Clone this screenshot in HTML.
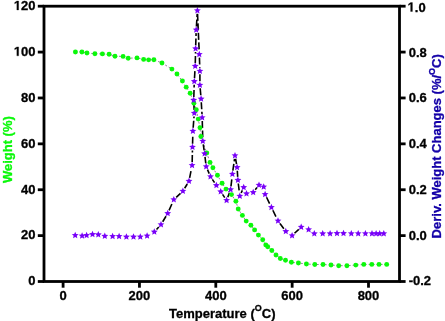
<!DOCTYPE html>
<html><head><meta charset="utf-8"><style>
html,body{margin:0;padding:0;background:#fff;}
body{width:445px;height:321px;overflow:hidden;}
svg{display:block;will-change:transform;}
text{font-family:"Liberation Sans",sans-serif;font-weight:bold;stroke:currentColor;stroke-width:0.3px;}
</style></head><body>
<svg width="445" height="321" viewBox="0 0 445 321">
<polyline fill="none" stroke="#8a6e8a" stroke-width="0.9" stroke-dasharray="2 2" points="75.4,51.95 81.9,51.95 86.95,53 94.9,53.8 102.4,53.9 109.1,54.3 115.0,56.2 123.1,56.4 128.2,58.2 137,57.9 143.65,59.4 148.65,59.85 153.9,59.8 162.0,63.0 171.9,69.1 176.95,74.0 182.4,80.95 186.2,87.15 190.15,93.2 193.9,103.3 196.3,109.7 198.2,119.1 200.0,127.7 200.85,136.55 206.8,153 210.05,162.4 212.9,167.7 217.45,175.3 222.1,183.2 226.0,189.1 231.5,194.6 235.9,201.2 238.2,209.0 242.4,215.4 246.2,221.1 250.9,225.2 254.6,229.9 258.4,235.1 262.7,239.8 265.8,244.9 267.7,246.7 271.8,250.5 276.0,255.0 280.3,258.5 285.5,260.2 291.4,262.3 298.4,263.0 306.4,264.0 314.8,264.5 323.0,264.5 331.0,265.0 338.7,265.7 346.9,265.7 355.8,265.1 363.8,264.4 371.8,264.4 379.0,264.4 386.7,264.4"/>
<path fill="none" stroke="#000" stroke-width="1.6" stroke-dasharray="7 2.5" d="M156.53,229.47L158.77,227.03M162.69,221.77L166.01,216.23M169.03,210.38L172.47,202.62M176.21,197.35L180.49,193.35M184.63,188.29L187.27,184.01M189.63,177.96L191.47,168.54M192.17,162.00L192.43,150.40M192.58,143.80L192.82,134.30M193.16,127.71L194.04,116.49M194.15,109.90L193.85,103.50M193.81,96.90L194.19,84.70M194.50,78.11L195.00,69.49M195.28,62.90L195.52,52.00M195.70,45.40L196.10,33.10M196.41,26.51L197.19,13.89M197.54,13.90L199.16,51.00M199.42,57.60L199.78,67.70M199.90,74.30L199.90,81.70M200.18,88.29L200.82,95.61M201.29,102.19L202.01,114.31M202.28,120.90L202.72,137.70M203.26,144.27L204.14,150.43M205.01,156.97L205.79,163.33M207.50,169.63L209.20,173.57M212.34,179.34L214.56,182.66M222.57,194.42L224.73,197.58M227.76,197.21L229.44,192.69M230.98,186.32L232.02,177.28M232.86,170.73L234.54,158.77M235.57,158.75L236.53,164.15M237.31,170.69L237.69,176.91M238.29,183.48L239.41,192.72M241.16,192.99L242.34,190.41M255.24,189.80L256.96,187.60M266.54,197.27L269.96,204.33M272.85,210.26L276.55,217.84M279.96,223.46L283.84,228.74M294.52,233.26L298.78,229.34"/>
<circle cx="75.4" cy="51.95" r="2.45" fill="#0af80a"/>
<circle cx="81.9" cy="51.95" r="2.45" fill="#0af80a"/>
<circle cx="86.95" cy="53" r="2.45" fill="#0af80a"/>
<circle cx="94.9" cy="53.8" r="2.45" fill="#0af80a"/>
<circle cx="102.4" cy="53.9" r="2.45" fill="#0af80a"/>
<circle cx="109.1" cy="54.3" r="2.45" fill="#0af80a"/>
<circle cx="115.0" cy="56.2" r="2.45" fill="#0af80a"/>
<circle cx="123.1" cy="56.4" r="2.45" fill="#0af80a"/>
<circle cx="128.2" cy="58.2" r="2.45" fill="#0af80a"/>
<circle cx="137" cy="57.9" r="2.45" fill="#0af80a"/>
<circle cx="143.65" cy="59.4" r="2.45" fill="#0af80a"/>
<circle cx="148.65" cy="59.85" r="2.45" fill="#0af80a"/>
<circle cx="153.9" cy="59.8" r="2.45" fill="#0af80a"/>
<circle cx="162.0" cy="63.0" r="2.45" fill="#0af80a"/>
<circle cx="171.9" cy="69.1" r="2.45" fill="#0af80a"/>
<circle cx="176.95" cy="74.0" r="2.45" fill="#0af80a"/>
<circle cx="182.4" cy="80.95" r="2.45" fill="#0af80a"/>
<circle cx="186.2" cy="87.15" r="2.45" fill="#0af80a"/>
<circle cx="190.15" cy="93.2" r="2.45" fill="#0af80a"/>
<circle cx="193.9" cy="103.3" r="2.45" fill="#0af80a"/>
<circle cx="196.3" cy="109.7" r="2.45" fill="#0af80a"/>
<circle cx="198.2" cy="119.1" r="2.45" fill="#0af80a"/>
<circle cx="200.0" cy="127.7" r="2.45" fill="#0af80a"/>
<circle cx="200.85" cy="136.55" r="2.45" fill="#0af80a"/>
<circle cx="206.8" cy="153" r="2.45" fill="#0af80a"/>
<circle cx="210.05" cy="162.4" r="2.45" fill="#0af80a"/>
<circle cx="212.9" cy="167.7" r="2.45" fill="#0af80a"/>
<circle cx="217.45" cy="175.3" r="2.45" fill="#0af80a"/>
<circle cx="222.1" cy="183.2" r="2.45" fill="#0af80a"/>
<circle cx="226.0" cy="189.1" r="2.45" fill="#0af80a"/>
<circle cx="231.5" cy="194.6" r="2.45" fill="#0af80a"/>
<circle cx="235.9" cy="201.2" r="2.45" fill="#0af80a"/>
<circle cx="238.2" cy="209.0" r="2.45" fill="#0af80a"/>
<circle cx="242.4" cy="215.4" r="2.45" fill="#0af80a"/>
<circle cx="246.2" cy="221.1" r="2.45" fill="#0af80a"/>
<circle cx="250.9" cy="225.2" r="2.45" fill="#0af80a"/>
<circle cx="254.6" cy="229.9" r="2.45" fill="#0af80a"/>
<circle cx="258.4" cy="235.1" r="2.45" fill="#0af80a"/>
<circle cx="262.7" cy="239.8" r="2.45" fill="#0af80a"/>
<circle cx="265.8" cy="244.9" r="2.45" fill="#0af80a"/>
<circle cx="267.7" cy="246.7" r="2.45" fill="#0af80a"/>
<circle cx="271.8" cy="250.5" r="2.45" fill="#0af80a"/>
<circle cx="276.0" cy="255.0" r="2.45" fill="#0af80a"/>
<circle cx="280.3" cy="258.5" r="2.45" fill="#0af80a"/>
<circle cx="285.5" cy="260.2" r="2.45" fill="#0af80a"/>
<circle cx="291.4" cy="262.3" r="2.45" fill="#0af80a"/>
<circle cx="298.4" cy="263.0" r="2.45" fill="#0af80a"/>
<circle cx="306.4" cy="264.0" r="2.45" fill="#0af80a"/>
<circle cx="314.8" cy="264.5" r="2.45" fill="#0af80a"/>
<circle cx="323.0" cy="264.5" r="2.45" fill="#0af80a"/>
<circle cx="331.0" cy="265.0" r="2.45" fill="#0af80a"/>
<circle cx="338.7" cy="265.7" r="2.45" fill="#0af80a"/>
<circle cx="346.9" cy="265.7" r="2.45" fill="#0af80a"/>
<circle cx="355.8" cy="265.1" r="2.45" fill="#0af80a"/>
<circle cx="363.8" cy="264.4" r="2.45" fill="#0af80a"/>
<circle cx="371.8" cy="264.4" r="2.45" fill="#0af80a"/>
<circle cx="379.0" cy="264.4" r="2.45" fill="#0af80a"/>
<circle cx="386.7" cy="264.4" r="2.45" fill="#0af80a"/>
<path transform="translate(75.2,235.3)" d="M0.00,-3.60 L0.97,-1.33 L3.42,-1.11 L1.57,0.51 L2.12,2.91 L0.00,1.65 L-2.12,2.91 L-1.57,0.51 L-3.42,-1.11 L-0.97,-1.33Z" fill="#7800f8"/>
<path transform="translate(82.1,235.8)" d="M0.00,-3.60 L0.97,-1.33 L3.42,-1.11 L1.57,0.51 L2.12,2.91 L0.00,1.65 L-2.12,2.91 L-1.57,0.51 L-3.42,-1.11 L-0.97,-1.33Z" fill="#7800f8"/>
<path transform="translate(86.6,235.3)" d="M0.00,-3.60 L0.97,-1.33 L3.42,-1.11 L1.57,0.51 L2.12,2.91 L0.00,1.65 L-2.12,2.91 L-1.57,0.51 L-3.42,-1.11 L-0.97,-1.33Z" fill="#7800f8"/>
<path transform="translate(92.5,234.4)" d="M0.00,-3.60 L0.97,-1.33 L3.42,-1.11 L1.57,0.51 L2.12,2.91 L0.00,1.65 L-2.12,2.91 L-1.57,0.51 L-3.42,-1.11 L-0.97,-1.33Z" fill="#7800f8"/>
<path transform="translate(98.3,234.7)" d="M0.00,-3.60 L0.97,-1.33 L3.42,-1.11 L1.57,0.51 L2.12,2.91 L0.00,1.65 L-2.12,2.91 L-1.57,0.51 L-3.42,-1.11 L-0.97,-1.33Z" fill="#7800f8"/>
<path transform="translate(104.8,236.2)" d="M0.00,-3.60 L0.97,-1.33 L3.42,-1.11 L1.57,0.51 L2.12,2.91 L0.00,1.65 L-2.12,2.91 L-1.57,0.51 L-3.42,-1.11 L-0.97,-1.33Z" fill="#7800f8"/>
<path transform="translate(112.6,236.3)" d="M0.00,-3.60 L0.97,-1.33 L3.42,-1.11 L1.57,0.51 L2.12,2.91 L0.00,1.65 L-2.12,2.91 L-1.57,0.51 L-3.42,-1.11 L-0.97,-1.33Z" fill="#7800f8"/>
<path transform="translate(119.1,236.3)" d="M0.00,-3.60 L0.97,-1.33 L3.42,-1.11 L1.57,0.51 L2.12,2.91 L0.00,1.65 L-2.12,2.91 L-1.57,0.51 L-3.42,-1.11 L-0.97,-1.33Z" fill="#7800f8"/>
<path transform="translate(126.4,236.9)" d="M0.00,-3.60 L0.97,-1.33 L3.42,-1.11 L1.57,0.51 L2.12,2.91 L0.00,1.65 L-2.12,2.91 L-1.57,0.51 L-3.42,-1.11 L-0.97,-1.33Z" fill="#7800f8"/>
<path transform="translate(133.5,236.9)" d="M0.00,-3.60 L0.97,-1.33 L3.42,-1.11 L1.57,0.51 L2.12,2.91 L0.00,1.65 L-2.12,2.91 L-1.57,0.51 L-3.42,-1.11 L-0.97,-1.33Z" fill="#7800f8"/>
<path transform="translate(140.3,236.8)" d="M0.00,-3.60 L0.97,-1.33 L3.42,-1.11 L1.57,0.51 L2.12,2.91 L0.00,1.65 L-2.12,2.91 L-1.57,0.51 L-3.42,-1.11 L-0.97,-1.33Z" fill="#7800f8"/>
<path transform="translate(147.1,235.8)" d="M0.00,-3.60 L0.97,-1.33 L3.42,-1.11 L1.57,0.51 L2.12,2.91 L0.00,1.65 L-2.12,2.91 L-1.57,0.51 L-3.42,-1.11 L-0.97,-1.33Z" fill="#7800f8"/>
<path transform="translate(154.3,231.9)" d="M0.00,-3.60 L0.97,-1.33 L3.42,-1.11 L1.57,0.51 L2.12,2.91 L0.00,1.65 L-2.12,2.91 L-1.57,0.51 L-3.42,-1.11 L-0.97,-1.33Z" fill="#7800f8"/>
<path transform="translate(161.0,224.6)" d="M0.00,-3.60 L0.97,-1.33 L3.42,-1.11 L1.57,0.51 L2.12,2.91 L0.00,1.65 L-2.12,2.91 L-1.57,0.51 L-3.42,-1.11 L-0.97,-1.33Z" fill="#7800f8"/>
<path transform="translate(167.7,213.4)" d="M0.00,-3.60 L0.97,-1.33 L3.42,-1.11 L1.57,0.51 L2.12,2.91 L0.00,1.65 L-2.12,2.91 L-1.57,0.51 L-3.42,-1.11 L-0.97,-1.33Z" fill="#7800f8"/>
<path transform="translate(173.8,199.6)" d="M0.00,-3.60 L0.97,-1.33 L3.42,-1.11 L1.57,0.51 L2.12,2.91 L0.00,1.65 L-2.12,2.91 L-1.57,0.51 L-3.42,-1.11 L-0.97,-1.33Z" fill="#7800f8"/>
<path transform="translate(182.9,191.1)" d="M0.00,-3.60 L0.97,-1.33 L3.42,-1.11 L1.57,0.51 L2.12,2.91 L0.00,1.65 L-2.12,2.91 L-1.57,0.51 L-3.42,-1.11 L-0.97,-1.33Z" fill="#7800f8"/>
<path transform="translate(189.0,181.2)" d="M0.00,-3.60 L0.97,-1.33 L3.42,-1.11 L1.57,0.51 L2.12,2.91 L0.00,1.65 L-2.12,2.91 L-1.57,0.51 L-3.42,-1.11 L-0.97,-1.33Z" fill="#7800f8"/>
<path transform="translate(192.1,165.3)" d="M0.00,-3.60 L0.97,-1.33 L3.42,-1.11 L1.57,0.51 L2.12,2.91 L0.00,1.65 L-2.12,2.91 L-1.57,0.51 L-3.42,-1.11 L-0.97,-1.33Z" fill="#7800f8"/>
<path transform="translate(192.5,147.1)" d="M0.00,-3.60 L0.97,-1.33 L3.42,-1.11 L1.57,0.51 L2.12,2.91 L0.00,1.65 L-2.12,2.91 L-1.57,0.51 L-3.42,-1.11 L-0.97,-1.33Z" fill="#7800f8"/>
<path transform="translate(192.9,131.0)" d="M0.00,-3.60 L0.97,-1.33 L3.42,-1.11 L1.57,0.51 L2.12,2.91 L0.00,1.65 L-2.12,2.91 L-1.57,0.51 L-3.42,-1.11 L-0.97,-1.33Z" fill="#7800f8"/>
<path transform="translate(194.3,113.2)" d="M0.00,-3.60 L0.97,-1.33 L3.42,-1.11 L1.57,0.51 L2.12,2.91 L0.00,1.65 L-2.12,2.91 L-1.57,0.51 L-3.42,-1.11 L-0.97,-1.33Z" fill="#7800f8"/>
<path transform="translate(193.7,100.2)" d="M0.00,-3.60 L0.97,-1.33 L3.42,-1.11 L1.57,0.51 L2.12,2.91 L0.00,1.65 L-2.12,2.91 L-1.57,0.51 L-3.42,-1.11 L-0.97,-1.33Z" fill="#7800f8"/>
<path transform="translate(194.3,81.4)" d="M0.00,-3.60 L0.97,-1.33 L3.42,-1.11 L1.57,0.51 L2.12,2.91 L0.00,1.65 L-2.12,2.91 L-1.57,0.51 L-3.42,-1.11 L-0.97,-1.33Z" fill="#7800f8"/>
<path transform="translate(195.2,66.2)" d="M0.00,-3.60 L0.97,-1.33 L3.42,-1.11 L1.57,0.51 L2.12,2.91 L0.00,1.65 L-2.12,2.91 L-1.57,0.51 L-3.42,-1.11 L-0.97,-1.33Z" fill="#7800f8"/>
<path transform="translate(195.6,48.7)" d="M0.00,-3.60 L0.97,-1.33 L3.42,-1.11 L1.57,0.51 L2.12,2.91 L0.00,1.65 L-2.12,2.91 L-1.57,0.51 L-3.42,-1.11 L-0.97,-1.33Z" fill="#7800f8"/>
<path transform="translate(196.2,29.8)" d="M0.00,-3.60 L0.97,-1.33 L3.42,-1.11 L1.57,0.51 L2.12,2.91 L0.00,1.65 L-2.12,2.91 L-1.57,0.51 L-3.42,-1.11 L-0.97,-1.33Z" fill="#7800f8"/>
<path transform="translate(197.4,10.6)" d="M0.00,-3.60 L0.97,-1.33 L3.42,-1.11 L1.57,0.51 L2.12,2.91 L0.00,1.65 L-2.12,2.91 L-1.57,0.51 L-3.42,-1.11 L-0.97,-1.33Z" fill="#7800f8"/>
<path transform="translate(199.3,54.3)" d="M0.00,-3.60 L0.97,-1.33 L3.42,-1.11 L1.57,0.51 L2.12,2.91 L0.00,1.65 L-2.12,2.91 L-1.57,0.51 L-3.42,-1.11 L-0.97,-1.33Z" fill="#7800f8"/>
<path transform="translate(199.9,71.0)" d="M0.00,-3.60 L0.97,-1.33 L3.42,-1.11 L1.57,0.51 L2.12,2.91 L0.00,1.65 L-2.12,2.91 L-1.57,0.51 L-3.42,-1.11 L-0.97,-1.33Z" fill="#7800f8"/>
<path transform="translate(199.9,85.0)" d="M0.00,-3.60 L0.97,-1.33 L3.42,-1.11 L1.57,0.51 L2.12,2.91 L0.00,1.65 L-2.12,2.91 L-1.57,0.51 L-3.42,-1.11 L-0.97,-1.33Z" fill="#7800f8"/>
<path transform="translate(201.1,98.9)" d="M0.00,-3.60 L0.97,-1.33 L3.42,-1.11 L1.57,0.51 L2.12,2.91 L0.00,1.65 L-2.12,2.91 L-1.57,0.51 L-3.42,-1.11 L-0.97,-1.33Z" fill="#7800f8"/>
<path transform="translate(202.2,117.6)" d="M0.00,-3.60 L0.97,-1.33 L3.42,-1.11 L1.57,0.51 L2.12,2.91 L0.00,1.65 L-2.12,2.91 L-1.57,0.51 L-3.42,-1.11 L-0.97,-1.33Z" fill="#7800f8"/>
<path transform="translate(202.8,141.0)" d="M0.00,-3.60 L0.97,-1.33 L3.42,-1.11 L1.57,0.51 L2.12,2.91 L0.00,1.65 L-2.12,2.91 L-1.57,0.51 L-3.42,-1.11 L-0.97,-1.33Z" fill="#7800f8"/>
<path transform="translate(204.6,153.7)" d="M0.00,-3.60 L0.97,-1.33 L3.42,-1.11 L1.57,0.51 L2.12,2.91 L0.00,1.65 L-2.12,2.91 L-1.57,0.51 L-3.42,-1.11 L-0.97,-1.33Z" fill="#7800f8"/>
<path transform="translate(206.2,166.6)" d="M0.00,-3.60 L0.97,-1.33 L3.42,-1.11 L1.57,0.51 L2.12,2.91 L0.00,1.65 L-2.12,2.91 L-1.57,0.51 L-3.42,-1.11 L-0.97,-1.33Z" fill="#7800f8"/>
<path transform="translate(210.5,176.6)" d="M0.00,-3.60 L0.97,-1.33 L3.42,-1.11 L1.57,0.51 L2.12,2.91 L0.00,1.65 L-2.12,2.91 L-1.57,0.51 L-3.42,-1.11 L-0.97,-1.33Z" fill="#7800f8"/>
<path transform="translate(216.4,185.4)" d="M0.00,-3.60 L0.97,-1.33 L3.42,-1.11 L1.57,0.51 L2.12,2.91 L0.00,1.65 L-2.12,2.91 L-1.57,0.51 L-3.42,-1.11 L-0.97,-1.33Z" fill="#7800f8"/>
<path transform="translate(220.7,191.7)" d="M0.00,-3.60 L0.97,-1.33 L3.42,-1.11 L1.57,0.51 L2.12,2.91 L0.00,1.65 L-2.12,2.91 L-1.57,0.51 L-3.42,-1.11 L-0.97,-1.33Z" fill="#7800f8"/>
<path transform="translate(226.6,200.3)" d="M0.00,-3.60 L0.97,-1.33 L3.42,-1.11 L1.57,0.51 L2.12,2.91 L0.00,1.65 L-2.12,2.91 L-1.57,0.51 L-3.42,-1.11 L-0.97,-1.33Z" fill="#7800f8"/>
<path transform="translate(230.6,189.6)" d="M0.00,-3.60 L0.97,-1.33 L3.42,-1.11 L1.57,0.51 L2.12,2.91 L0.00,1.65 L-2.12,2.91 L-1.57,0.51 L-3.42,-1.11 L-0.97,-1.33Z" fill="#7800f8"/>
<path transform="translate(232.4,174.0)" d="M0.00,-3.60 L0.97,-1.33 L3.42,-1.11 L1.57,0.51 L2.12,2.91 L0.00,1.65 L-2.12,2.91 L-1.57,0.51 L-3.42,-1.11 L-0.97,-1.33Z" fill="#7800f8"/>
<path transform="translate(235.0,155.5)" d="M0.00,-3.60 L0.97,-1.33 L3.42,-1.11 L1.57,0.51 L2.12,2.91 L0.00,1.65 L-2.12,2.91 L-1.57,0.51 L-3.42,-1.11 L-0.97,-1.33Z" fill="#7800f8"/>
<path transform="translate(237.1,167.4)" d="M0.00,-3.60 L0.97,-1.33 L3.42,-1.11 L1.57,0.51 L2.12,2.91 L0.00,1.65 L-2.12,2.91 L-1.57,0.51 L-3.42,-1.11 L-0.97,-1.33Z" fill="#7800f8"/>
<path transform="translate(237.9,180.2)" d="M0.00,-3.60 L0.97,-1.33 L3.42,-1.11 L1.57,0.51 L2.12,2.91 L0.00,1.65 L-2.12,2.91 L-1.57,0.51 L-3.42,-1.11 L-0.97,-1.33Z" fill="#7800f8"/>
<path transform="translate(239.8,196.0)" d="M0.00,-3.60 L0.97,-1.33 L3.42,-1.11 L1.57,0.51 L2.12,2.91 L0.00,1.65 L-2.12,2.91 L-1.57,0.51 L-3.42,-1.11 L-0.97,-1.33Z" fill="#7800f8"/>
<path transform="translate(243.7,187.4)" d="M0.00,-3.60 L0.97,-1.33 L3.42,-1.11 L1.57,0.51 L2.12,2.91 L0.00,1.65 L-2.12,2.91 L-1.57,0.51 L-3.42,-1.11 L-0.97,-1.33Z" fill="#7800f8"/>
<path transform="translate(246.5,193.7)" d="M0.00,-3.60 L0.97,-1.33 L3.42,-1.11 L1.57,0.51 L2.12,2.91 L0.00,1.65 L-2.12,2.91 L-1.57,0.51 L-3.42,-1.11 L-0.97,-1.33Z" fill="#7800f8"/>
<path transform="translate(253.2,192.4)" d="M0.00,-3.60 L0.97,-1.33 L3.42,-1.11 L1.57,0.51 L2.12,2.91 L0.00,1.65 L-2.12,2.91 L-1.57,0.51 L-3.42,-1.11 L-0.97,-1.33Z" fill="#7800f8"/>
<path transform="translate(259.0,185.0)" d="M0.00,-3.60 L0.97,-1.33 L3.42,-1.11 L1.57,0.51 L2.12,2.91 L0.00,1.65 L-2.12,2.91 L-1.57,0.51 L-3.42,-1.11 L-0.97,-1.33Z" fill="#7800f8"/>
<path transform="translate(263.7,186.8)" d="M0.00,-3.60 L0.97,-1.33 L3.42,-1.11 L1.57,0.51 L2.12,2.91 L0.00,1.65 L-2.12,2.91 L-1.57,0.51 L-3.42,-1.11 L-0.97,-1.33Z" fill="#7800f8"/>
<path transform="translate(265.1,194.3)" d="M0.00,-3.60 L0.97,-1.33 L3.42,-1.11 L1.57,0.51 L2.12,2.91 L0.00,1.65 L-2.12,2.91 L-1.57,0.51 L-3.42,-1.11 L-0.97,-1.33Z" fill="#7800f8"/>
<path transform="translate(271.4,207.3)" d="M0.00,-3.60 L0.97,-1.33 L3.42,-1.11 L1.57,0.51 L2.12,2.91 L0.00,1.65 L-2.12,2.91 L-1.57,0.51 L-3.42,-1.11 L-0.97,-1.33Z" fill="#7800f8"/>
<path transform="translate(278.0,220.8)" d="M0.00,-3.60 L0.97,-1.33 L3.42,-1.11 L1.57,0.51 L2.12,2.91 L0.00,1.65 L-2.12,2.91 L-1.57,0.51 L-3.42,-1.11 L-0.97,-1.33Z" fill="#7800f8"/>
<path transform="translate(285.8,231.4)" d="M0.00,-3.60 L0.97,-1.33 L3.42,-1.11 L1.57,0.51 L2.12,2.91 L0.00,1.65 L-2.12,2.91 L-1.57,0.51 L-3.42,-1.11 L-0.97,-1.33Z" fill="#7800f8"/>
<path transform="translate(292.1,235.5)" d="M0.00,-3.60 L0.97,-1.33 L3.42,-1.11 L1.57,0.51 L2.12,2.91 L0.00,1.65 L-2.12,2.91 L-1.57,0.51 L-3.42,-1.11 L-0.97,-1.33Z" fill="#7800f8"/>
<path transform="translate(301.2,227.1)" d="M0.00,-3.60 L0.97,-1.33 L3.42,-1.11 L1.57,0.51 L2.12,2.91 L0.00,1.65 L-2.12,2.91 L-1.57,0.51 L-3.42,-1.11 L-0.97,-1.33Z" fill="#7800f8"/>
<path transform="translate(308.6,229.6)" d="M0.00,-3.60 L0.97,-1.33 L3.42,-1.11 L1.57,0.51 L2.12,2.91 L0.00,1.65 L-2.12,2.91 L-1.57,0.51 L-3.42,-1.11 L-0.97,-1.33Z" fill="#7800f8"/>
<path transform="translate(314.3,233.7)" d="M0.00,-3.60 L0.97,-1.33 L3.42,-1.11 L1.57,0.51 L2.12,2.91 L0.00,1.65 L-2.12,2.91 L-1.57,0.51 L-3.42,-1.11 L-0.97,-1.33Z" fill="#7800f8"/>
<path transform="translate(322.7,233.7)" d="M0.00,-3.60 L0.97,-1.33 L3.42,-1.11 L1.57,0.51 L2.12,2.91 L0.00,1.65 L-2.12,2.91 L-1.57,0.51 L-3.42,-1.11 L-0.97,-1.33Z" fill="#7800f8"/>
<path transform="translate(330.1,233.7)" d="M0.00,-3.60 L0.97,-1.33 L3.42,-1.11 L1.57,0.51 L2.12,2.91 L0.00,1.65 L-2.12,2.91 L-1.57,0.51 L-3.42,-1.11 L-0.97,-1.33Z" fill="#7800f8"/>
<path transform="translate(337.0,233.4)" d="M0.00,-3.60 L0.97,-1.33 L3.42,-1.11 L1.57,0.51 L2.12,2.91 L0.00,1.65 L-2.12,2.91 L-1.57,0.51 L-3.42,-1.11 L-0.97,-1.33Z" fill="#7800f8"/>
<path transform="translate(343.5,233.4)" d="M0.00,-3.60 L0.97,-1.33 L3.42,-1.11 L1.57,0.51 L2.12,2.91 L0.00,1.65 L-2.12,2.91 L-1.57,0.51 L-3.42,-1.11 L-0.97,-1.33Z" fill="#7800f8"/>
<path transform="translate(351.3,233.5)" d="M0.00,-3.60 L0.97,-1.33 L3.42,-1.11 L1.57,0.51 L2.12,2.91 L0.00,1.65 L-2.12,2.91 L-1.57,0.51 L-3.42,-1.11 L-0.97,-1.33Z" fill="#7800f8"/>
<path transform="translate(358.2,233.6)" d="M0.00,-3.60 L0.97,-1.33 L3.42,-1.11 L1.57,0.51 L2.12,2.91 L0.00,1.65 L-2.12,2.91 L-1.57,0.51 L-3.42,-1.11 L-0.97,-1.33Z" fill="#7800f8"/>
<path transform="translate(365.4,233.6)" d="M0.00,-3.60 L0.97,-1.33 L3.42,-1.11 L1.57,0.51 L2.12,2.91 L0.00,1.65 L-2.12,2.91 L-1.57,0.51 L-3.42,-1.11 L-0.97,-1.33Z" fill="#7800f8"/>
<path transform="translate(372.0,233.5)" d="M0.00,-3.60 L0.97,-1.33 L3.42,-1.11 L1.57,0.51 L2.12,2.91 L0.00,1.65 L-2.12,2.91 L-1.57,0.51 L-3.42,-1.11 L-0.97,-1.33Z" fill="#7800f8"/>
<path transform="translate(376.1,233.5)" d="M0.00,-3.60 L0.97,-1.33 L3.42,-1.11 L1.57,0.51 L2.12,2.91 L0.00,1.65 L-2.12,2.91 L-1.57,0.51 L-3.42,-1.11 L-0.97,-1.33Z" fill="#7800f8"/>
<path transform="translate(379.7,233.5)" d="M0.00,-3.60 L0.97,-1.33 L3.42,-1.11 L1.57,0.51 L2.12,2.91 L0.00,1.65 L-2.12,2.91 L-1.57,0.51 L-3.42,-1.11 L-0.97,-1.33Z" fill="#7800f8"/>
<path transform="translate(383.8,233.5)" d="M0.00,-3.60 L0.97,-1.33 L3.42,-1.11 L1.57,0.51 L2.12,2.91 L0.00,1.65 L-2.12,2.91 L-1.57,0.51 L-3.42,-1.11 L-0.97,-1.33Z" fill="#7800f8"/>
<rect x="44.0" y="6.2" width="355.5" height="275.3" fill="none" stroke="#000" stroke-width="2.8"/>
<line x1="37.8" y1="6.2" x2="44.0" y2="6.2" stroke="#000" stroke-width="2.8"/>
<line x1="399.5" y1="6.2" x2="405.6" y2="6.2" stroke="#000" stroke-width="2.8"/>
<line x1="37.8" y1="52.083333333333336" x2="44.0" y2="52.083333333333336" stroke="#000" stroke-width="2.8"/>
<line x1="399.5" y1="52.083333333333336" x2="405.6" y2="52.083333333333336" stroke="#000" stroke-width="2.8"/>
<line x1="37.8" y1="97.96666666666667" x2="44.0" y2="97.96666666666667" stroke="#000" stroke-width="2.8"/>
<line x1="399.5" y1="97.96666666666667" x2="405.6" y2="97.96666666666667" stroke="#000" stroke-width="2.8"/>
<line x1="37.8" y1="143.85" x2="44.0" y2="143.85" stroke="#000" stroke-width="2.8"/>
<line x1="399.5" y1="143.85" x2="405.6" y2="143.85" stroke="#000" stroke-width="2.8"/>
<line x1="37.8" y1="189.73333333333332" x2="44.0" y2="189.73333333333332" stroke="#000" stroke-width="2.8"/>
<line x1="399.5" y1="189.73333333333332" x2="405.6" y2="189.73333333333332" stroke="#000" stroke-width="2.8"/>
<line x1="37.8" y1="235.61666666666665" x2="44.0" y2="235.61666666666665" stroke="#000" stroke-width="2.8"/>
<line x1="399.5" y1="235.61666666666665" x2="405.6" y2="235.61666666666665" stroke="#000" stroke-width="2.8"/>
<line x1="37.8" y1="281.5" x2="44.0" y2="281.5" stroke="#000" stroke-width="2.8"/>
<line x1="399.5" y1="281.5" x2="405.6" y2="281.5" stroke="#000" stroke-width="2.8"/>
<line x1="63.1" y1="281.5" x2="63.1" y2="287.7" stroke="#000" stroke-width="2.8"/>
<line x1="139.45" y1="281.5" x2="139.45" y2="287.7" stroke="#000" stroke-width="2.8"/>
<line x1="215.79999999999998" y1="281.5" x2="215.79999999999998" y2="287.7" stroke="#000" stroke-width="2.8"/>
<line x1="292.15" y1="281.5" x2="292.15" y2="287.7" stroke="#000" stroke-width="2.8"/>
<line x1="368.5" y1="281.5" x2="368.5" y2="287.7" stroke="#000" stroke-width="2.8"/>
<text x="35.5" y="9.9"  font-size="13" text-anchor="end">20</text>
<path transform="translate(13.82,9.95) scale(0.006348,-0.006348)" d="M478,0L478,1170L140,959L140,1180L493,1409L759,1409L759,0Z" fill="#000" stroke="#000" stroke-width="47.3"/>
<text x="35.5" y="55.8"  font-size="13" text-anchor="end">00</text>
<path transform="translate(13.82,55.83) scale(0.006348,-0.006348)" d="M478,0L478,1170L140,959L140,1180L493,1409L759,1409L759,0Z" fill="#000" stroke="#000" stroke-width="47.3"/>
<text x="35.5" y="101.7"  font-size="13" text-anchor="end">80</text>
<text x="35.5" y="147.6"  font-size="13" text-anchor="end">60</text>
<text x="35.5" y="193.5"  font-size="13" text-anchor="end">40</text>
<text x="35.5" y="239.4"  font-size="13" text-anchor="end">20</text>
<text x="35.5" y="285.2"  font-size="13" text-anchor="end">0</text>
<text x="414.83" y="11.5"  font-size="13">.0</text>
<path transform="translate(407.60,11.50) scale(0.006348,-0.006348)" d="M478,0L478,1170L140,959L140,1180L493,1409L759,1409L759,0Z" fill="#000" stroke="#000" stroke-width="47.3"/>
<text x="408.7" y="56.6"  font-size="13">0.8</text>
<text x="408.7" y="102.2"  font-size="13">0.6</text>
<text x="408.7" y="148.2"  font-size="13">0.4</text>
<text x="408.7" y="194.1"  font-size="13">0.2</text>
<text x="408.7" y="239.6"  font-size="13">0.0</text>
<text x="408.7" y="284.5"  font-size="13">-0.2</text>
<text x="63.1" y="299.9"  font-size="13" text-anchor="middle">0</text>
<text x="139.45" y="299.9"  font-size="13" text-anchor="middle">200</text>
<text x="215.79999999999998" y="299.9"  font-size="13" text-anchor="middle">400</text>
<text x="292.15" y="299.9"  font-size="13" text-anchor="middle">600</text>
<text x="368.5" y="299.9"  font-size="13" text-anchor="middle">800</text>
<text x="169" y="317.7"  font-size="13">Temperature (<tspan dy="-6.8" font-size="9">O</tspan><tspan dy="6.8">C)</tspan></text>
<text transform="translate(11.8,183.1) rotate(-90)"  font-size="13" style="fill:#0af80a;stroke:#0af80a">Weight (%)</text>
<text transform="translate(441.4,238.4) rotate(-90)"  font-size="13" style="fill:#1400a8;stroke:#1400a8">Deriv. Weight Changes (%/<tspan dy="-6.8" font-size="9">O</tspan><tspan dy="6.8">C)</tspan></text>
</svg>
</body></html>
